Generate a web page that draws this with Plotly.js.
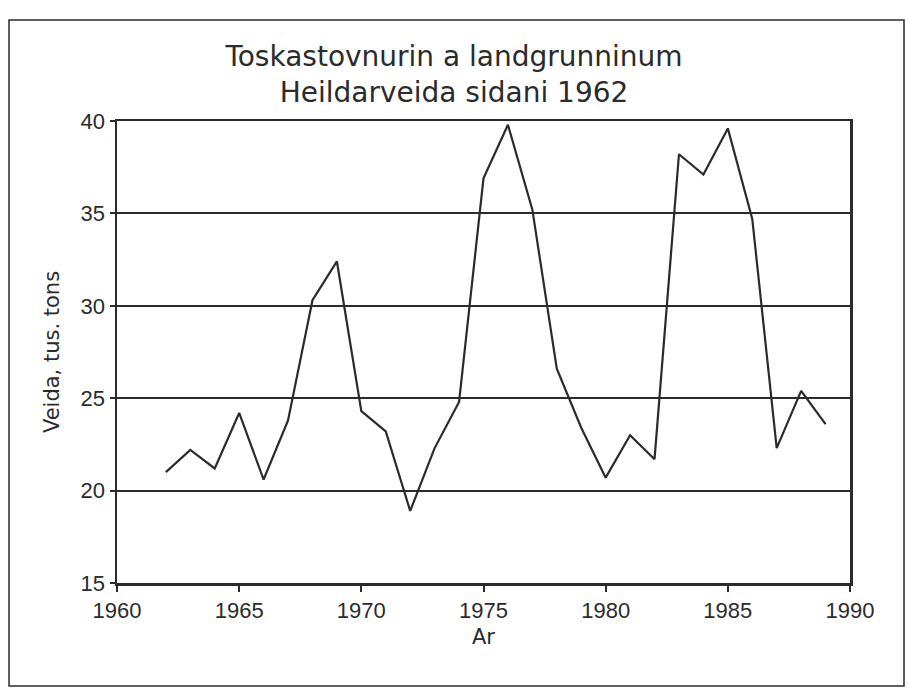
<!DOCTYPE html>
<html>
<head>
<meta charset="utf-8">
<script src="https://cdn.plot.ly/plotly-3.0.1.min.js"></script>
<style>
html,body{margin:0;padding:0;background:#fff;}
#chart{width:908px;height:691px;}
</style>
</head>
<body>
<div id="chart"></div>
<script>
const years = [1962,1963,1964,1965,1966,1967,1968,1969,1970,1971,1972,1973,1974,1975,1976,1977,1978,1979,1980,1981,1982,1983,1984,1985,1986,1987,1988,1989];
const catch_ = [21.0,22.2,21.2,24.2,20.6,23.8,30.3,32.4,24.3,23.2,18.9,22.3,24.8,36.9,39.8,35.2,26.6,23.4,20.7,23.0,21.7,38.2,37.1,39.6,34.7,22.3,25.4,23.6];
const titleText = "Toskastovnurin a landgrunninum<br>Heildarveida sidani 1962";
const xTitle = "Ar";
const yTitle = "Veida, tus. tons";

const ink = "#2b2b2b";
const L = 117, R = 58, T = 121, B = 108;
const W = 908 - L - R, H = 691 - T - B;

const trace = {
  x: years, y: catch_, type: "scatter", mode: "lines",
  line: {color: ink, width: 2.2}, hoverinfo: "skip"
};

const layout = {
  width: 908, height: 691,
  paper_bgcolor: "#fff", plot_bgcolor: "#fff",
  margin: {l: L, r: R, t: T, b: B},
  font: {family: "Liberation Sans, Arial, sans-serif", color: ink, size: 22},
  title: {text: titleText, x: 0.5, xref: "container", y: 0.905, yref: "container", yanchor: "middle",
          font: {family: "DejaVu Sans, sans-serif", size: 28, color: ink}},
  showlegend: false,
  xaxis: {
    range: [1960, 1990], tick0: 1960, dtick: 5, showgrid: false, zeroline: false,
    showline: true, linecolor: ink, linewidth: 2.5, mirror: true,
    ticks: "outside", ticklen: 6, tickwidth: 2, tickcolor: ink,
    title: {text: xTitle, font: {family: "DejaVu Sans, sans-serif", size: 21}, standoff: 8},
    tickfont: {size: 22}
  },
  yaxis: {
    range: [15, 40], tick0: 15, dtick: 5, showgrid: true, gridcolor: ink, gridwidth: 2,
    zeroline: false, showline: true, linecolor: ink, linewidth: 2.5, mirror: true,
    ticks: "outside", ticklen: 5, tickwidth: 2, tickcolor: ink,
    title: {text: yTitle, font: {family: "DejaVu Sans, sans-serif", size: 21}, standoff: 16},
    tickfont: {size: 22}
  },
  shapes: [{
    type: "rect", xref: "paper", yref: "paper",
    x0: (9 - L) / W, x1: (904 - L) / W, y0: (691 - B - 686) / H, y1: (691 - B - 20) / H,
    line: {color: ink, width: 1.5}, fillcolor: "rgba(0,0,0,0)", layer: "below"
  }]
};

Plotly.newPlot("chart", [trace], layout, {staticPlot: true, displayModeBar: false});
</script>
</body>
</html>
